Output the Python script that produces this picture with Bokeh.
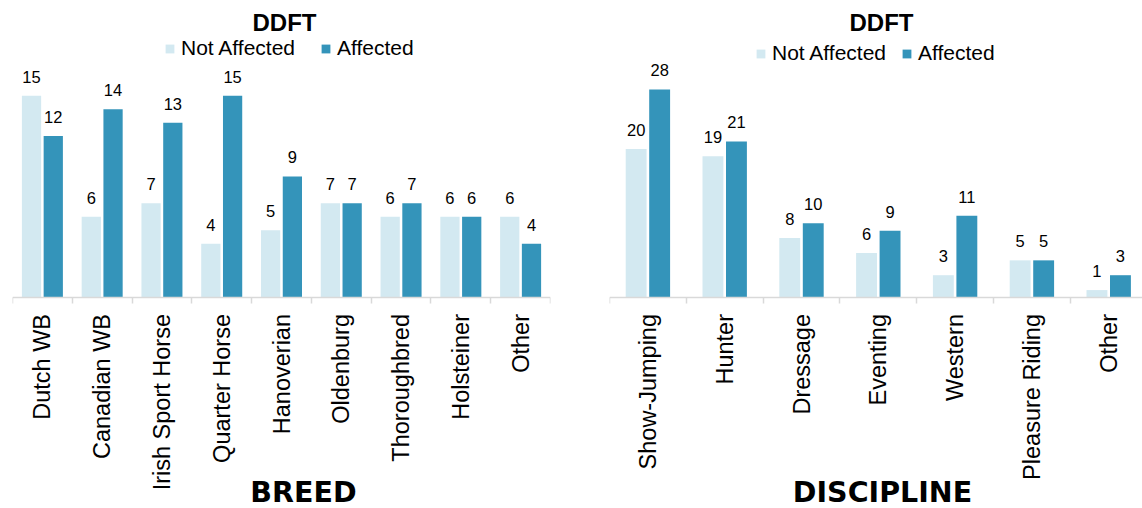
import math

from bokeh.plotting import figure
from bokeh.models import FixedTicker, Legend, LegendItem, Label, Range1d
from bokeh.layouts import row
from bokeh.embed import file_html
from bokeh.resources import INLINE
from bokeh.core.properties import value

# ---- data ----
breeds = ["Dutch WB", "Canadian WB", "Irish Sport Horse", "Quarter Horse",
          "Hanoverian", "Oldenburg", "Thoroughbred", "Holsteiner", "Other"]
breed_not_affected = [15, 6, 7, 4, 5, 7, 6, 6, 6]
breed_affected = [12, 14, 13, 15, 9, 7, 7, 6, 4]

disciplines = ["Show-Jumping", "Hunter", "Dressage", "Eventing", "Western",
               "Pleasure Riding", "Other"]
discipline_not_affected = [20, 19, 8, 6, 3, 5, 1]
discipline_affected = [28, 21, 10, 9, 11, 5, 3]

series_names = ["Not Affected", "Affected"]
chart_title = "DDFT"

# ---- style ----
FONT = "Liberation Sans"
NAME_FONT = "DejaVu Sans"
LIGHT = "#d3e9f1"
DARK = "#3494ba"
AXIS_GRAY = "#d9d9d9"
HEIGHT = 508
BASELINE_PX = 297     # pixel row of the value axis zero line
BELOW_PX = HEIGHT - BASELINE_PX


def make_panel(cats, not_aff, aff, axis_name, width, border_left, border_right,
               x_end, unit_px, offset, bar_w, legend_xy, legend_spacing,
               title_x, name_x):
    n = len(cats)
    # the plotting area spans the full height; the category labels and the
    # axis name sit below the zero line inside it
    y_range = Range1d(-BELOW_PX / unit_px, BASELINE_PX / unit_px)
    p = figure(width=width, height=HEIGHT,
               x_range=Range1d(0, x_end), y_range=y_range,
               output_backend="svg", toolbar_location=None,
               y_axis_location=None,
               min_border_left=border_left, min_border_right=border_right,
               min_border_top=0, min_border_bottom=0,
               outline_line_color=None, background_fill_color="white",
               border_fill_color="white")
    p.xgrid.visible = False
    p.ygrid.visible = False

    centers = [i + 0.5 for i in range(n)]
    x_na = [c - offset for c in centers]
    x_af = [c + offset for c in centers]

    r_na = p.vbar(x=x_na, top=not_aff, width=bar_w, bottom=0,
                  fill_color=LIGHT, line_color=None)
    r_af = p.vbar(x=x_af, top=aff, width=bar_w, bottom=0,
                  fill_color=DARK, line_color=None)

    # value labels above the bars
    for xs, vals in ((x_na, not_aff), (x_af, aff)):
        p.text(x=xs, y=vals, text=[str(v) for v in vals],
               text_align="center", text_baseline="middle", y_offset=-19,
               text_font=value(FONT), text_font_size="16.5px",
               text_color="black")

    # category names, rotated, hanging under the zero line
    p.text(x=centers, y=[0] * n, text=cats, angle=math.pi / 2,
           text_align="right", text_baseline="middle", y_offset=16.5,
           text_font=value(FONT), text_font_size="23.5px",
           text_color="black")

    legend = Legend(
        items=[LegendItem(label=series_names[0], renderers=[r_na]),
               LegendItem(label=series_names[1], renderers=[r_af])],
        location=legend_xy, orientation="horizontal",
        glyph_width=11, glyph_height=11, label_standoff=6,
        spacing=legend_spacing,
        padding=0, margin=0, border_line_color=None,
        background_fill_alpha=0, label_text_font=FONT,
        label_text_font_size="21px", label_text_color="black",
        label_height=11)
    p.add_layout(legend)

    p.add_layout(Label(x=title_x, y=HEIGHT - 22, x_units="screen",
                       y_units="screen", text=chart_title,
                       text_align="center", text_baseline="middle",
                       text_font=FONT, text_font_size="24px",
                       text_font_style="bold", text_color="black"))
    p.add_layout(Label(x=name_x, y=16, x_units="screen", y_units="screen",
                       text=axis_name, text_align="center",
                       text_baseline="middle", text_font=NAME_FONT,
                       text_font_size="28.5px", text_font_style="bold",
                       text_color="black"))

    # category axis: line at zero with short separators between groups
    ax = p.xaxis[0]
    ax.fixed_location = 0
    ax.ticker = FixedTicker(ticks=[], minor_ticks=list(range(n + 1)))
    ax.axis_line_color = AXIS_GRAY
    ax.axis_line_width = 1.5
    ax.major_tick_line_color = None
    ax.major_tick_in = 0
    ax.major_tick_out = 0
    ax.minor_tick_line_color = AXIS_GRAY
    ax.minor_tick_line_width = 1.5
    ax.minor_tick_in = 0
    ax.minor_tick_out = 6
    ax.major_label_standoff = 0
    ax.major_label_text_font_size = "0px"
    return p


left = make_panel(breeds, breed_not_affected, breed_affected, "BREED",
                  width=580, border_left=12, border_right=30,
                  x_end=9, unit_px=13.45, offset=0.182, bar_w=0.322,
                  legend_xy=(152, 448), legend_spacing=25,
                  title_x=272, name_x=291)
right = make_panel(disciplines, discipline_not_affected, discipline_affected,
                   "DISCIPLINE", width=562, border_left=29, border_right=0,
                   x_end=533 / 76.8, unit_px=7.43, offset=0.153, bar_w=0.272,
                   legend_xy=(146, 443), legend_spacing=15,
                   title_x=272, name_x=273)

layout = row(left, right)
open("out.html", "w").write(file_html(layout, INLINE))
